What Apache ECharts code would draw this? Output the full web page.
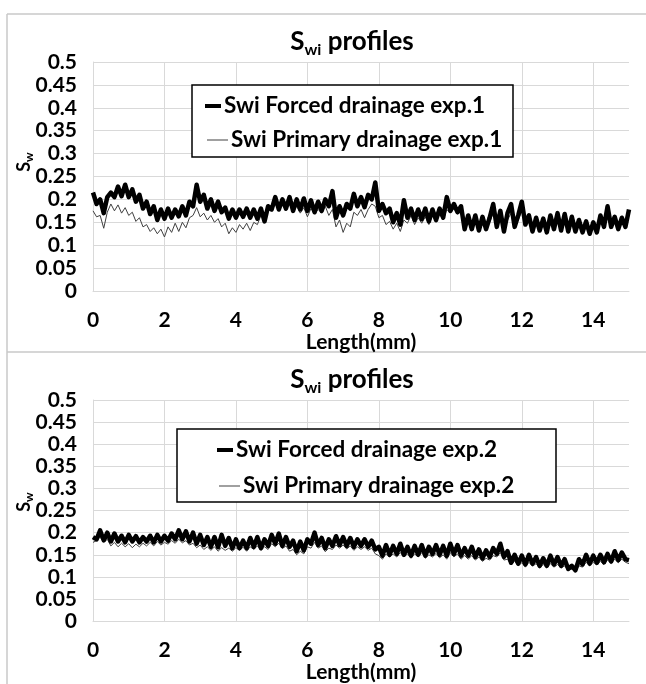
<!DOCTYPE html>
<html>
<head>
<meta charset="utf-8">
<script src="https://cdn.jsdelivr.net/npm/echarts@6/dist/echarts.min.js"></script>
<style>
  html, body { margin: 0; padding: 0; background: #fff; }
  #chart { width: 646px; height: 684px; }
</style>
</head>
<body>
<div id="chart"></div>
<script>
// sampling step along the core (mm), values every 0.1 mm
var xStep = 0.1;

// experiment 1
var forced1 = [
  0.215, 0.19, 0.2, 0.17, 0.205, 0.215, 0.205, 0.228, 0.207, 0.232,
  0.205, 0.222, 0.195, 0.21, 0.18, 0.195, 0.168, 0.185, 0.155, 0.178,
  0.158, 0.18, 0.16, 0.178, 0.163, 0.185, 0.165, 0.195, 0.185, 0.232,
  0.195, 0.21, 0.18, 0.2, 0.175, 0.195, 0.172, 0.182, 0.158, 0.178,
  0.16, 0.178, 0.162, 0.18, 0.16, 0.178, 0.158, 0.18, 0.152, 0.185,
  0.178, 0.205, 0.178, 0.2, 0.18, 0.205, 0.175, 0.2, 0.178, 0.202,
  0.175, 0.198, 0.172, 0.195, 0.175, 0.2, 0.185, 0.218, 0.16, 0.185,
  0.165, 0.19, 0.18, 0.212, 0.185, 0.205, 0.183, 0.21, 0.2, 0.237,
  0.175, 0.19, 0.17, 0.18, 0.15, 0.17, 0.145, 0.198, 0.16, 0.18,
  0.155, 0.178, 0.157, 0.18, 0.152, 0.178, 0.155, 0.18, 0.16, 0.205,
  0.175, 0.19, 0.172, 0.185, 0.135, 0.165, 0.135, 0.165, 0.132, 0.162,
  0.135, 0.16, 0.19, 0.14, 0.175, 0.13, 0.17, 0.19, 0.14, 0.165,
  0.195, 0.145, 0.165, 0.13, 0.16, 0.132, 0.158, 0.128, 0.165, 0.135,
  0.17, 0.132, 0.168, 0.13, 0.162, 0.13, 0.155, 0.128, 0.152, 0.125,
  0.15, 0.128, 0.165, 0.14, 0.185, 0.14, 0.162, 0.135, 0.16, 0.14,
  0.178
];
var primary1 = [
  0.175, 0.162, 0.165, 0.137, 0.172, 0.19, 0.175, 0.188, 0.17, 0.182,
  0.165, 0.172, 0.152, 0.16, 0.14, 0.145, 0.13, 0.138, 0.125, 0.135,
  0.118, 0.14, 0.128, 0.148, 0.13, 0.15, 0.138, 0.16, 0.165, 0.182,
  0.162, 0.17, 0.155, 0.165, 0.15, 0.158, 0.14, 0.148, 0.125, 0.138,
  0.128, 0.145, 0.135, 0.148, 0.132, 0.15, 0.145, 0.165, 0.158, 0.178,
  0.175, 0.19, 0.178, 0.188, 0.178, 0.192, 0.172, 0.185, 0.17, 0.182,
  0.162, 0.18, 0.168, 0.178, 0.17, 0.185, 0.165, 0.178, 0.14, 0.155,
  0.128, 0.148, 0.14, 0.172, 0.165, 0.178, 0.16, 0.178, 0.19, 0.185,
  0.16, 0.165, 0.145, 0.152, 0.135, 0.148, 0.13, 0.155, 0.148, 0.165,
  0.145, 0.16, 0.148, 0.162, 0.145, 0.165, 0.15, 0.168, 0.155, 0.178,
  0.17, 0.18, 0.168, 0.175, 0.138, 0.152, 0.137, 0.15, 0.135, 0.152,
  0.138, 0.15, 0.17, 0.142, 0.16, 0.132, 0.155, 0.17, 0.142, 0.155,
  0.175, 0.145, 0.155, 0.132, 0.15, 0.135, 0.148, 0.13, 0.155, 0.137,
  0.158, 0.135, 0.155, 0.132, 0.15, 0.132, 0.145, 0.13, 0.142, 0.127,
  0.14, 0.13, 0.152, 0.14, 0.17, 0.142, 0.152, 0.137, 0.15, 0.14,
  0.165
];

// experiment 2
var forced2 = [
  0.19, 0.185, 0.205, 0.183, 0.2, 0.18, 0.198, 0.18, 0.193, 0.178,
  0.195, 0.18, 0.192, 0.178, 0.19, 0.18, 0.193, 0.178, 0.195, 0.18,
  0.193, 0.182, 0.198, 0.185, 0.205, 0.185, 0.203, 0.18, 0.2, 0.175,
  0.195, 0.172, 0.19, 0.168, 0.19, 0.167, 0.195, 0.17, 0.188, 0.165,
  0.185, 0.165, 0.182, 0.165, 0.188, 0.168, 0.19, 0.165, 0.185, 0.17,
  0.195, 0.175, 0.198, 0.17, 0.19, 0.168, 0.182, 0.158, 0.18, 0.16,
  0.185, 0.175, 0.2, 0.172, 0.188, 0.165, 0.185, 0.17, 0.192, 0.172,
  0.19, 0.17, 0.188, 0.168, 0.185, 0.17, 0.185, 0.168, 0.182, 0.162,
  0.168, 0.148, 0.172, 0.15, 0.17, 0.152, 0.175, 0.15, 0.168, 0.148,
  0.17, 0.15, 0.172, 0.148, 0.168, 0.152, 0.172, 0.15, 0.17, 0.148,
  0.175, 0.152, 0.172, 0.148, 0.165, 0.148, 0.168, 0.145, 0.162, 0.142,
  0.16, 0.145, 0.165, 0.152, 0.175, 0.145, 0.158, 0.132, 0.15, 0.13,
  0.148, 0.128, 0.15, 0.13, 0.145, 0.125, 0.142, 0.125, 0.148, 0.128,
  0.145, 0.125, 0.14, 0.118, 0.125, 0.115, 0.14, 0.128, 0.15, 0.13,
  0.148, 0.132, 0.15, 0.133, 0.152, 0.135, 0.158, 0.138, 0.155, 0.14,
  0.138
];
var primary2 = [
  0.178, 0.182, 0.19, 0.178, 0.185, 0.17, 0.178, 0.168, 0.176, 0.168,
  0.175, 0.166, 0.174, 0.168, 0.176, 0.17, 0.178, 0.17, 0.18, 0.172,
  0.178, 0.174, 0.182, 0.176, 0.185, 0.177, 0.182, 0.172, 0.176, 0.166,
  0.172, 0.162, 0.168, 0.16, 0.168, 0.158, 0.166, 0.16, 0.165, 0.158,
  0.166, 0.16, 0.167, 0.158, 0.168, 0.162, 0.17, 0.16, 0.168, 0.162,
  0.175, 0.168, 0.176, 0.164, 0.17, 0.158, 0.162, 0.15, 0.158, 0.152,
  0.168, 0.165, 0.178, 0.165, 0.17, 0.157, 0.165, 0.162, 0.172, 0.165,
  0.172, 0.163, 0.17, 0.16, 0.168, 0.162, 0.168, 0.16, 0.165, 0.152,
  0.148, 0.14, 0.152, 0.145, 0.152, 0.145, 0.155, 0.145, 0.152, 0.142,
  0.152, 0.145, 0.155, 0.142, 0.15, 0.145, 0.153, 0.143, 0.15, 0.14,
  0.155, 0.145, 0.152, 0.14, 0.148, 0.14, 0.148, 0.138, 0.145, 0.135,
  0.142, 0.138, 0.148, 0.145, 0.155, 0.138, 0.14, 0.127, 0.135, 0.125,
  0.132, 0.122, 0.133, 0.124, 0.13, 0.12, 0.128, 0.12, 0.13, 0.122,
  0.128, 0.12, 0.125, 0.114, 0.118, 0.112, 0.125, 0.122, 0.133, 0.125,
  0.133, 0.127, 0.135, 0.128, 0.138, 0.13, 0.14, 0.132, 0.14, 0.133,
  0.13
];

var seriesNames1 = ['Swi Forced drainage exp.1', 'Swi Primary drainage exp.1'];
var seriesNames2 = ['Swi Forced drainage exp.2', 'Swi Primary drainage exp.2'];

function toPoints(values) {
  return values.map(function (v, i) { return [+(i * xStep).toFixed(1), v]; });
}

var FONT = 'Lato';
var GRID_COLOR = '#d9d9d9';
var grids = [
  { left: 93, right: 17, top: 62, height: 229 },
  { left: 93, right: 17, top: 400, height: 229 }
];

function xAxisFor(idx) {
  return {
    type: 'value', gridIndex: idx, min: 0, max: 15, interval: 2,
    name: 'Length(mm)', nameLocation: 'middle', nameGap: 37,
    nameTextStyle: { fontFamily: FONT, fontWeight: 'bold', fontSize: 21, color: '#000' },
    axisLine: { show: true, lineStyle: { color: GRID_COLOR, width: 1 } },
    axisTick: { show: false },
    axisLabel: { showMaxLabel: false, margin: 19, fontFamily: FONT, fontWeight: 'bold', fontSize: 21, color: '#000' },
    // no grid line at the 15 mm edge
    splitLine: { show: true, lineStyle: { width: 1, color: [GRID_COLOR, GRID_COLOR, GRID_COLOR, GRID_COLOR,
      GRID_COLOR, GRID_COLOR, GRID_COLOR, GRID_COLOR, 'rgba(0,0,0,0)'] } }
  };
}
function yAxisFor(idx) {
  return {
    type: 'value', gridIndex: idx, min: 0, max: 0.5, interval: 0.05,
    axisLine: { show: true, lineStyle: { color: GRID_COLOR, width: 1 } },
    axisTick: { show: false },
    axisLabel: {
      margin: 16, fontFamily: FONT, fontWeight: 'bold', fontSize: 21, color: '#000',
      formatter: function (v) { return String(+v.toFixed(2)); }
    },
    splitLine: { show: true, lineStyle: { color: GRID_COLOR, width: 1 } }
  };
}
function lineSeries(name, values, idx, width, color) {
  return {
    name: name, type: 'line', xAxisIndex: idx, yAxisIndex: idx,
    data: toPoints(values), symbol: 'none', smooth: false, animation: false,
    lineStyle: { color: color, width: width, join: 'round' },
    itemStyle: { color: color }
  };
}
function legendItem(name, left, centerY, thick) {
  return {
    orient: 'horizontal', left: left, top: centerY - 14, padding: 0, z: 6,
    itemWidth: thick ? 16 : 21, itemHeight: thick ? 4 : 1, icon: 'rect',
    selectedMode: false, data: [name],
    textStyle: { fontFamily: FONT, fontWeight: 'bold', fontSize: 22.5, lineHeight: 28, color: '#000', padding: [0, 0, 0, -2] }
  };
}
function titleText(cx, cy) {
  return {
    type: 'text', x: cx, y: cy,
    style: {
      text: '{a|S}{b|wi}{a| profiles}', align: 'center', verticalAlign: 'middle',
      rich: {
        a: { fontFamily: FONT, fontWeight: 'bold', fontSize: 26, lineHeight: 32, fill: '#000' },
        b: { fontFamily: FONT, fontWeight: 'bold', fontSize: 16, lineHeight: 15, verticalAlign: 'bottom', fill: '#000' }
      }
    }
  };
}
function yNameText(cx, cy) {
  return {
    type: 'text', x: cx, y: cy, rotation: Math.PI / 2,
    style: {
      text: '{a|S}{b|w}', align: 'center', verticalAlign: 'middle',
      rich: {
        a: { fontFamily: FONT, fontWeight: 'bold', fontSize: 18, lineHeight: 22, fill: '#000' },
        b: { fontFamily: FONT, fontWeight: 'bold', fontSize: 12, lineHeight: 10, verticalAlign: 'bottom', fill: '#000' }
      }
    }
  };
}
function boxRect(x, y, w, h) {
  return { type: 'rect', z: 3, shape: { x: x, y: y, width: w, height: h },
    style: { fill: '#fff', stroke: '#000', lineWidth: 1.5 } };
}

var chart = echarts.init(document.getElementById('chart'), null, { renderer: 'canvas' });
chart.setOption({
  backgroundColor: '#fff',
  animation: false,
  grid: grids,
  xAxis: [xAxisFor(0), xAxisFor(1)],
  yAxis: [yAxisFor(0), yAxisFor(1)],
  legend: [
    legendItem(seriesNames1[0], 205, 106, true),
    legendItem(seriesNames1[1], 207, 140, false),
    legendItem(seriesNames2[0], 217, 450, true),
    legendItem(seriesNames2[1], 219, 486, false)
  ],
  series: [
    lineSeries(seriesNames1[1], primary1, 0, 1, '#404040'),
    lineSeries(seriesNames1[0], forced1, 0, 4.5, '#000'),
    lineSeries(seriesNames2[1], primary2, 1, 1, '#404040'),
    lineSeries(seriesNames2[0], forced2, 1, 4.5, '#000')
  ],
  graphic: [
    { type: 'line', shape: { x1: 7, y1: 14, x2: 646, y2: 14 }, style: { stroke: '#c8c8c8', lineWidth: 1.5 } },
    { type: 'line', shape: { x1: 7, y1: 14, x2: 7, y2: 684 }, style: { stroke: '#c8c8c8', lineWidth: 1.5 } },
    { type: 'line', shape: { x1: 7, y1: 352, x2: 646, y2: 352 }, style: { stroke: '#c8c8c8', lineWidth: 1.5 } },
    boxRect(192, 85, 321, 72),
    boxRect(177, 429, 379, 73),
    titleText(352, 42),
    titleText(352, 380),
    yNameText(24, 162),
    yNameText(24, 502)
  ]
});
</script>
</body>
</html>
